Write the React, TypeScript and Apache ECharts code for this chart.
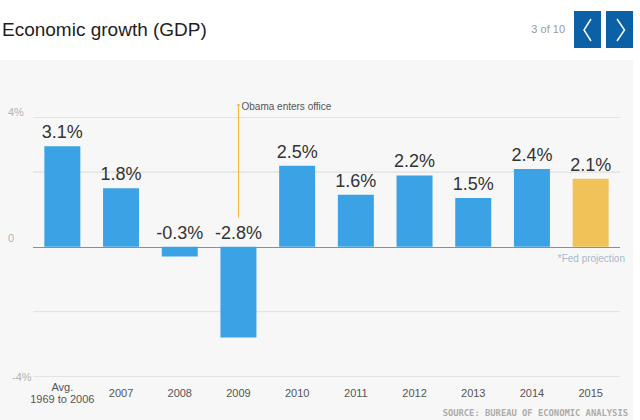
import React, { useEffect, useRef } from 'react';
import * as echarts from 'echarts';

const categories = ['Avg.\n1969 to 2006', '2007', '2008', '2009', '2010', '2011', '2012', '2013', '2014', '2015'];
const growth = [3.1, 1.8, -0.3, -2.8, 2.5, 1.6, 2.2, 1.5, 2.4, 2.1];
const projected = [false, false, false, false, false, false, false, false, false, true];
const yLabeled = { 4: '4%', 0: '0', '-4': '-4%' } as Record<string, string>;
const extraGridValues = [2.3, -2];
const obamaCategory = '2009';
const obamaLineRange = [4.4, 0.9];
const obamaText = 'Obama enters office';
const titleText = 'Economic growth (GDP)';
const pagerText = '3 of 10';
const noteText = '*Fed projection';
const sourceText = 'SOURCE: BUREAU OF ECONOMIC ANALYSIS';

const BLUE = '#3ba3e5';
const YELLOW = '#f1c257';
const ORANGE = '#f2b53c';
const FONT = '"Liberation Sans", Arial, Helvetica, sans-serif';

export default function App() {
  const ref = useRef<HTMLDivElement>(null);
  useEffect(() => {
    if (!ref.current) return;
    const chart = echarts.init(ref.current, undefined, { renderer: 'svg' });
    const obamaIdx = categories.indexOf(obamaCategory);
    const baseGraphic: any[] = [
      { type: 'rect', id: 'panel', z: -10, shape: { x: 0, y: 60, width: 633, height: 360 }, style: { fill: '#f7f7f7' } },
      { type: 'text', id: 'title', x: 2, y: 29, style: { text: titleText, font: '19px ' + FONT, fill: '#1e1e1e', verticalAlign: 'middle' } },
      { type: 'text', id: 'pager', x: 565, y: 29, style: { text: pagerText, font: '11px ' + FONT, fill: '#9a9a9a', align: 'right', verticalAlign: 'middle' } },
      { type: 'rect', id: 'btn1', shape: { x: 574, y: 11, width: 27, height: 37 }, style: { fill: '#0b60a6' } },
      { type: 'rect', id: 'btn2', shape: { x: 606, y: 11, width: 27, height: 37 }, style: { fill: '#0b60a6' } },
      { type: 'polyline', id: 'chev1', shape: { points: [[591, 19], [584, 30], [591, 41]] }, style: { stroke: '#ffffff', lineWidth: 1.5, fill: 'none' } },
      { type: 'polyline', id: 'chev2', shape: { points: [[617, 19], [624.5, 30], [617, 41]] }, style: { stroke: '#ffffff', lineWidth: 1.5, fill: 'none' } },
      { type: 'text', id: 'note', x: 625, y: 258, style: { text: noteText, font: '10px ' + FONT, fill: '#a9b9ca', align: 'right', verticalAlign: 'middle' } },
      { type: 'text', id: 'source', x: 628, y: 413, style: { text: sourceText, font: 'bold 8.8px "DejaVu Sans Mono", monospace', fill: '#acacac', align: 'right', verticalAlign: 'middle' } },
    ];
    const option: any = {
      animation: false,
      backgroundColor: '#ffffff',
      textStyle: { fontFamily: FONT },
      grid: { left: 33, right: 20, top: 117, height: 259.5 },
      xAxis: {
        type: 'category',
        data: categories,
        axisLine: { show: false },
        axisTick: { show: false },
        splitLine: { show: false },
        axisLabel: {
          margin: 16.5,
          verticalAlign: 'middle',
          color: '#555',
          fontSize: 11,
          lineHeight: 12.5,
          fontFamily: FONT,
          interval: 0,
        },
      },
      yAxis: {
        type: 'value',
        min: -4,
        max: 4,
        interval: 4,
        axisLine: { show: false },
        axisTick: { show: false },
        splitLine: { show: true, lineStyle: { color: ['#e3e3e3', '#8e8e8e', '#e3e3e3'], width: 1 } },
        axisLabel: {
          align: 'left',
          margin: 25,
          color: '#b3b3b3',
          fontSize: 11,
          formatter: (v: number) => {
            const t = yLabeled[String(v)] ?? '';
            if (v > 0) return '{up|' + t + '}';
            if (v === 0) return '{zero|' + t + '}';
            return '{low|' + t + '}';
          },
          rich: {
            up: { color: '#b3b3b3', fontSize: 11, fontFamily: FONT, padding: [0, 0, 10, 0] },
            zero: { color: '#b3b3b3', fontSize: 11, fontFamily: FONT, padding: [0, 0, 17, 0] },
            low: { color: '#b3b3b3', fontSize: 11, fontFamily: FONT, padding: [0, 0, 0, 4] },
          },
        },
      },
      series: [
        {
          type: 'bar',
          z: 2,
          barWidth: 36,
          data: growth.map((v, i) => ({ value: v, itemStyle: { color: projected[i] ? YELLOW : BLUE } })),
          label: {
            show: true,
            position: 'top',
            distance: 5,
            color: '#333',
            fontSize: 18,
            fontFamily: FONT,
            formatter: (p: any) => p.value.toFixed(1) + '%',
          },
          markArea: {
            z: 1,
            silent: true,
            label: { show: false },
            itemStyle: { color: 'rgba(0,0,0,0)', borderColor: '#e3e3e3', borderWidth: 1 },
            data: extraGridValues.map((v) => [{ yAxis: v }, { yAxis: v }]),
          },
        },
      ],
      graphic: baseGraphic,
    };
    chart.setOption(option);
    const top = chart.convertToPixel({ gridIndex: 0 }, [obamaIdx, obamaLineRange[0]]) as number[];
    const bot = chart.convertToPixel({ gridIndex: 0 }, [obamaIdx, obamaLineRange[1]]) as number[];
    const x = Math.round(top[0]) + 0.5;
    option.graphic = baseGraphic.concat([
      { type: 'line', id: 'obamaLine', z: 5, shape: { x1: x, y1: top[1], x2: x, y2: bot[1] }, style: { stroke: ORANGE, lineWidth: 1 } },
      { type: 'circle', id: 'obamaDot', z: 5, shape: { cx: x, cy: top[1] + 1, r: 1.3 }, style: { fill: ORANGE } },
      { type: 'text', id: 'obamaText', z: 5, x: x + 3, y: top[1] + 2, style: { text: obamaText, font: '10px ' + FONT, fill: '#555', verticalAlign: 'middle' } },
    ]);
    chart.setOption(option, true);
    return () => chart.dispose();
  }, []);
  return <div ref={ref} style={{ position: 'absolute', left: 0, top: 0, width: 640, height: 420 }} />;
}
